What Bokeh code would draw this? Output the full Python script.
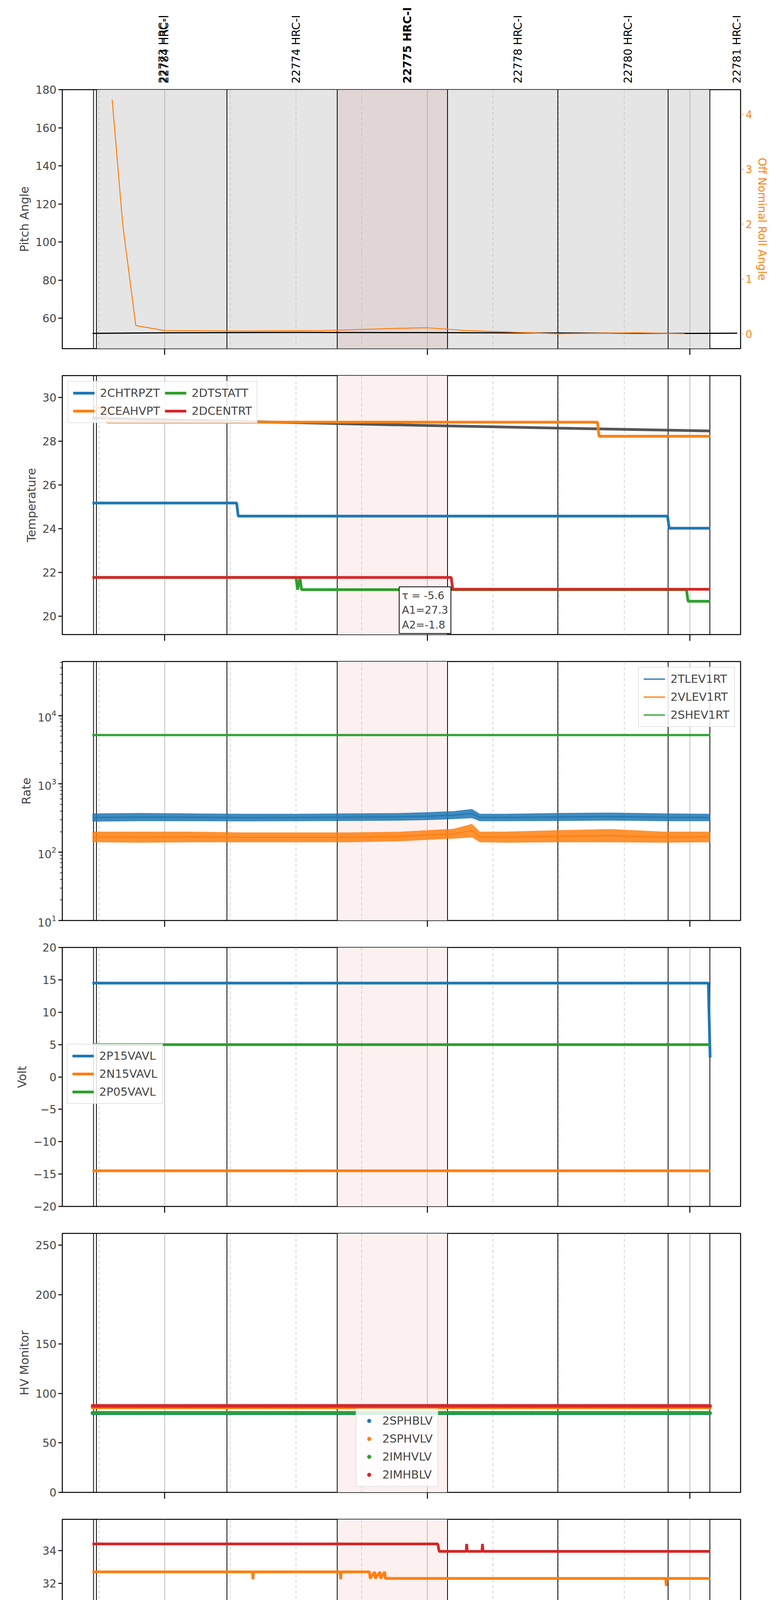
import math
from bokeh.plotting import figure
from bokeh.layouts import column
from bokeh.models import (Range1d, LinearAxis, FixedTicker, Span, BoxAnnotation, Label,
                          Legend, LegendItem)
from bokeh.core.properties import value
from bokeh.embed import file_html
from bokeh.resources import INLINE

# ---------------- data (time in hours of 2020-03-23) ----------------
x_start, x_end = 0.610, 3.193
obs_bounds = [0.729, 0.740, 1.237, 1.657, 2.077, 2.497, 2.917, 3.076]
hour_ticks = [1.0, 2.0, 3.0]
hour_labels = ["01h", "02h", "03h"]
minor_ticks = [0.75, 1.25, 1.5, 1.75, 2.25, 2.5, 2.75]
minor_labels = ["45", "15", "30", "45", "15", "30", "45"]
obs_names = ["22773 HRC-I", "22784 HRC-I", "22774 HRC-I", "22778 HRC-I", "22780 HRC-I", "22781 HRC-I"]
obs_label_x = [0.994, 1.0, 1.50, 2.345, 2.765, 3.18]
focus_name = ["22775 HRC-I"]
focus_label_x = [1.925]
focus_obs = (1.657, 2.077)

pitch_t = [0.725, 1.0, 1.5, 2.0, 2.5, 3.0, 3.18]
pitch_v = [52.0, 52.3, 52.5, 52.4, 52.2, 52.0, 52.1]
roll_t = [0.80, 0.84, 0.89, 1.0, 1.3, 1.6, 1.9, 2.0, 2.15, 2.5, 2.8, 2.98]
roll_v = [4.27, 2.0, 0.15, 0.06, 0.05, 0.06, 0.1, 0.11, 0.06, 0.0, 0.02, 0.0]

chtrpzt_t = [0.725, 1.274, 1.280, 2.915, 2.921, 3.077]
chtrpzt_v = [25.18, 25.18, 24.58, 24.58, 24.03, 24.03]
ceahvpt_t = [0.725, 0.775, 0.781, 2.648, 2.654, 3.077]
ceahvpt_v = [29.55, 29.55, 28.87, 28.87, 28.23, 28.23]
dtstatt_t = [0.725, 1.500, 1.506, 1.515, 1.521, 2.987, 2.993, 3.077]
dtstatt_v = [21.78, 21.78, 21.22, 21.78, 21.22, 21.22, 20.69, 20.69]
dcentrt_t = [0.725, 2.091, 2.097, 3.077]
dcentrt_v = [21.78, 21.78, 21.24, 21.24]
model_t = [0.725, 1.0, 1.5, 2.0, 2.5, 3.077]
model_v = [29.07, 28.98, 28.85, 28.72, 28.6, 28.47]

rate_t = [0.725, 0.9, 1.1, 1.3, 1.5, 1.7, 1.9, 2.0, 2.1, 2.17, 2.2, 2.3, 2.5, 2.7, 2.9, 3.077]
tlev_lo = [280, 285, 285, 283, 285, 287, 290, 295, 305, 315, 285, 285, 287, 290, 285, 285]
tlev_hi = [370, 375, 370, 365, 365, 370, 375, 385, 400, 430, 365, 365, 375, 380, 370, 365]
vlev_lo = [140, 138, 140, 140, 140, 140, 145, 152, 158, 165, 140, 138, 140, 140, 138, 140]
vlev_hi = [200, 200, 200, 195, 195, 195, 200, 210, 220, 260, 200, 200, 210, 218, 200, 200]
shev_lo = [5000, 5000, 5000, 5000, 5000, 5000, 5000, 5000, 5000, 5000, 5000, 5000, 5000, 5000, 5000, 5000]
shev_hi = [5400, 5400, 5400, 5400, 5400, 5400, 5400, 5400, 5400, 5400, 5400, 5400, 5400, 5400, 5400, 5400]

p15_t = [0.725, 3.070, 3.077]
p15_v = [14.5, 14.5, 3.0]
n15_t = [0.725, 1.2, 1.7, 2.2, 2.7, 3.077]
n15_v = [-14.5, -14.5, -14.5, -14.5, -14.5, -14.5]
p05_t = [0.725, 3.077]
p05_v = [5.0, 5.0]

hv_t = [0.725, 0.8, 0.9, 1.0, 1.1, 1.2, 1.3, 1.4, 1.5, 1.6, 1.7, 1.8, 1.9, 2.0,
        2.1, 2.2, 2.3, 2.4, 2.5, 2.6, 2.7, 2.8, 2.9, 3.0, 3.077]
sphblv_v = [80.0] * 25
sphvlv_v = [86.0] * 25
imhvlv_v = [80.5] * 25
imhblv_v = [87.5] * 25

spinatm_t = [0.725, 2.310, 2.312, 2.318, 2.320, 2.330, 2.332, 2.352, 2.354, 2.380, 2.382, 2.40, 2.402, 2.428, 2.430, 2.436]
spinatm_v = [22.4, 22.4, 21.7, 21.7, 22.4, 22.4, 21.7, 22.4, 21.7, 22.4, 21.7, 22.4, 21.7, 22.4, 21.7, 21.7]
sphvatm_t = [0.725, 1.334, 1.336, 1.338, 1.668, 1.670, 1.672, 1.78, 1.782, 1.80, 1.802, 1.82, 1.822, 1.838, 1.840, 2.908, 2.910, 2.912, 3.077]
sphvatm_v = [32.7, 32.7, 32.25, 32.7, 32.7, 32.25, 32.7, 32.7, 32.3, 32.7, 32.3, 32.7, 32.3, 32.7, 32.3, 32.3, 31.85, 32.3, 32.3]
iminatm_t = [0.725, 3.077]
iminatm_v = [21.7, 21.7]
imhvatm_t = [0.725, 2.04, 2.045, 2.148, 2.150, 2.152, 2.208, 2.210, 2.212, 3.077]
imhvatm_v = [34.4, 34.4, 33.95, 33.95, 34.4, 33.95, 33.95, 34.4, 33.95, 33.95]

fhtrmzt_t = [0.725, 0.805, 0.81, 0.815, 1.242, 1.250, 1.70, 1.703, 1.706, 2.354, 2.362, 2.473, 2.476, 2.479, 3.077]
fhtrmzt_v = [22.9, 22.9, 23.5, 22.9, 22.9, 22.4, 22.4, 24.55, 22.4, 22.4, 21.8, 21.8, 21.25, 21.8, 21.8]
fradpyt_t = [0.725, 1.388, 1.394, 2.477, 2.483, 3.077]
fradpyt_v = [17.65, 17.65, 17.15, 17.15, 16.65, 16.65]
fepratm_t = [0.725, 1.31, 1.315, 1.32, 1.33, 1.34, 1.35, 3.01, 3.02, 3.03, 3.04, 3.077]
fepratm_v = [25.4, 25.4, 24.6, 25.4, 24.6, 25.4, 24.6, 24.6, 23.9, 24.6, 23.9, 23.9]
fe00atm_t = [0.725, 0.735, 0.74, 0.745, 0.80, 0.802, 0.804, 1.18, 1.182, 1.184, 1.40, 1.402, 1.404,
             1.47, 1.476, 1.52, 1.522, 1.524, 1.58, 1.582, 1.584, 1.81, 1.812, 1.814, 1.98, 1.982, 1.984,
             2.26, 2.266, 2.43, 2.432, 2.434, 2.53, 2.532, 2.534, 2.75, 2.752, 2.754, 3.03, 3.032, 3.034, 3.077]
fe00atm_v = [22.65, 22.35, 22.65, 22.35, 22.35, 21.1, 22.35, 22.35, 21.7, 22.35, 22.35, 22.0, 22.35,
             22.35, 22.0, 22.0, 22.35, 22.0, 22.0, 22.35, 22.0, 22.0, 21.7, 22.0, 22.0, 22.65, 22.0,
             22.0, 21.7, 21.7, 22.35, 21.7, 21.7, 22.0, 21.7, 21.7, 21.4, 21.7, 21.7, 21.1, 21.7, 21.7]

C = ["#1f77b4", "#ff7f0e", "#2ca02c", "#d62728"]
FONT = "DejaVu Sans"
W = 1984
LEFT, RIGHT = 159, 88
PH = 663
TICK_FS = "28px"
LABEL_FS = "30px"
LEG_FS = "29px"


def style(p, ylabel):
    p.outline_line_color = "black"
    p.outline_line_width = 2.5
    p.xgrid.visible = False
    p.ygrid.visible = False
    for ax in p.yaxis:
        ax.axis_label = ylabel
        ax.axis_label_text_font = FONT
        ax.axis_label_text_font_style = "normal"
        ax.axis_label_text_font_size = LABEL_FS
        ax.axis_label_standoff = 8
        ax.major_label_text_font = FONT
        ax.major_label_text_font_size = TICK_FS
        ax.major_tick_in = 0
        ax.major_tick_out = 10
        ax.major_tick_line_width = 2.5
        ax.minor_tick_line_color = None
        ax.axis_line_color = None


def decorate(p, top=False):
    if top:
        p.add_layout(BoxAnnotation(left=obs_bounds[1], right=obs_bounds[-1], fill_color="#e5e5e5",
                                   fill_alpha=1, line_color=None, level="underlay"))
        p.add_layout(BoxAnnotation(left=focus_obs[0], right=focus_obs[1], fill_color="#d9a8a8",
                                   fill_alpha=0.25, line_color=None, level="underlay"))
    else:
        p.add_layout(BoxAnnotation(left=focus_obs[0], right=focus_obs[1], fill_color="#fdf0f0",
                                   fill_alpha=1, line_color=None, level="underlay"))
    for h in hour_ticks:
        p.add_layout(Span(location=h, dimension="height", line_color="#aaaaaa", line_width=1.5, level="underlay"))
    for m in minor_ticks:
        p.add_layout(Span(location=m, dimension="height", line_color="#bbbbbb", line_width=1.2,
                          line_dash="8 6", level="underlay"))
    for b in obs_bounds:
        p.add_layout(Span(location=b, dimension="height", line_color="black", line_width=2, level="underlay"))


def xaxis_plain(p):
    ax = p.xaxis[0]
    ax.ticker = FixedTicker(ticks=hour_ticks)
    ax.major_label_overrides = {1: "", 2: "", 3: ""}
    ax.major_label_text_font_size = "1px"
    ax.major_tick_in = 0
    ax.major_tick_out = 16
    ax.major_tick_line_width = 2.5
    ax.minor_tick_line_color = None
    ax.axis_line_color = None


def make(height, ytop_border, ybot_border, yr, ylabel, log=False):
    p = figure(width=W, height=height, output_backend="svg", toolbar_location=None,
               x_range=Range1d(x_start, x_end), y_range=yr,
               y_axis_type="log" if log else "linear",
               min_border_left=LEFT, min_border_right=RIGHT,
               min_border_top=ytop_border, min_border_bottom=ybot_border)
    style(p, ylabel)
    return p


def legend(p, items, loc, ncols=1, margin=14):
    lg = Legend(items=items, location=loc, label_text_font=FONT, label_text_font_size=LEG_FS,
                border_line_color="#cccccc", border_line_width=2, background_fill_alpha=0.85,
                glyph_width=55, glyph_height=24, label_standoff=14, spacing=12, padding=12,
                margin=margin, ncols=ncols, label_height=30)
    p.add_layout(lg)


plots = []

# ---- label strip above panel 1 ----
strip = figure(width=W, height=215, output_backend="svg", toolbar_location=None,
               x_range=Range1d(x_start, x_end), y_range=Range1d(0, 1),
               min_border_left=LEFT, min_border_right=RIGHT, min_border_top=0, min_border_bottom=0)
strip.axis.visible = False
strip.grid.visible = False
strip.outline_line_color = None
strip.text(x=obs_label_x, y=[0.0] * len(obs_label_x), text=obs_names, angle=math.pi / 2,
           text_align="left", text_baseline="middle", y_offset=-2,
           text_font=value(FONT), text_font_size="28px")
strip.text(x=focus_label_x, y=[0.0], text=focus_name, angle=math.pi / 2,
           text_align="left", text_baseline="middle", y_offset=-2,
           text_font=value(FONT), text_font_size="28px", text_font_style="bold")
plots.append(strip)

# ---- panel 1 ----
p1 = make(14 + PH + 35, 14, 35, Range1d(44, 180), "Pitch Angle")
p1.yaxis[0].ticker = FixedTicker(ticks=[60, 80, 100, 120, 140, 160, 180])
p1.extra_y_ranges = {"roll": Range1d(-0.27, 4.45)}
rax = LinearAxis(y_range_name="roll", axis_label="Off Nominal Roll Angle",
                 ticker=FixedTicker(ticks=[0, 1, 2, 3, 4]))
for k, v in dict(axis_label_text_color=C[1], major_label_text_color=C[1], major_tick_line_color=C[1],
                 axis_label_text_font=FONT, axis_label_text_font_style="normal",
                 axis_label_text_font_size="28px", major_label_text_font=FONT,
                 major_label_text_font_size="26px", major_tick_in=0, major_tick_out=8,
                 axis_label_standoff=6,
                 minor_tick_line_color=None, axis_line_color=None).items():
    setattr(rax, k, v)
p1.add_layout(rax, "right")
decorate(p1, top=True)
p1.line(pitch_t, pitch_v, line_color="black", line_width=3)
p1.line(roll_t, roll_v, line_color=C[1], line_width=2.5, y_range_name="roll")
xaxis_plain(p1)
plots.append(p1)

# ---- panel 2 ----
p2 = make(732, 34, 35, Range1d(19.17, 31.0), "Temperature")
p2.yaxis[0].ticker = FixedTicker(ticks=[20, 22, 24, 26, 28, 30])
decorate(p2)
p2.line(model_t, model_v, line_color="#444444", line_width=7, line_alpha=0.9)
r = [p2.line(chtrpzt_t, chtrpzt_v, line_color=C[0], line_width=7),
     p2.line(ceahvpt_t, ceahvpt_v, line_color=C[1], line_width=7),
     p2.line(dtstatt_t, dtstatt_v, line_color=C[2], line_width=7),
     p2.line(dcentrt_t, dcentrt_v, line_color=C[3], line_width=7)]
legend(p2, [LegendItem(label=n, renderers=[rr]) for n, rr in
            zip(["2CHTRPZT", "2CEAHVPT", "2DTSTATT", "2DCENTRT"], r)], "top_left", ncols=2)
p2.add_layout(Label(x=1.893, y=19.22, text="τ = -5.6\nA1=27.3\nA2=-1.8", text_baseline="bottom",
                    text_font=FONT, text_font_size="27px", border_line_color="black",
                    border_line_width=2, background_fill_color="white", padding=7))
xaxis_plain(p2)
plots.append(p2)

# ---- panel 3 ----
p3 = make(732, 34, 35, Range1d(10, 62000), "Rate", log=True)
p3.yaxis[0].minor_tick_line_color = "black"
p3.yaxis[0].minor_tick_out = 6
p3.yaxis[0].minor_tick_in = 0
p3.yaxis[0].minor_tick_line_width = 1.5
decorate(p3)
r = []
for lo, hi, col in [(tlev_lo, tlev_hi, C[0]), (vlev_lo, vlev_hi, C[1]), (shev_lo, shev_hi, C[2])]:
    p3.varea(x=rate_t, y1=lo, y2=hi, fill_color=col, fill_alpha=0.85)
    mid = [math.sqrt(a * b) for a, b in zip(lo, hi)]
    r.append(p3.line(rate_t, mid, line_color=col, line_width=3))
legend(p3, [LegendItem(label=n, renderers=[rr]) for n, rr in
            zip(["2TLEV1RT", "2VLEV1RT", "2SHEV1RT"], r)], "top_right")
xaxis_plain(p3)
plots.append(p3)

# ---- panel 4 ----
p4 = make(732, 34, 35, Range1d(-20, 20), "Volt")
p4.yaxis[0].ticker = FixedTicker(ticks=[-20, -15, -10, -5, 0, 5, 10, 15, 20])
decorate(p4)
r = [p4.line(p15_t, p15_v, line_color=C[0], line_width=7),
     p4.line(n15_t, n15_v, line_color=C[1], line_width=7),
     p4.line(p05_t, p05_v, line_color=C[2], line_width=7)]
legend(p4, [LegendItem(label=n, renderers=[rr]) for n, rr in
            zip(["2P15VAVL", "2N15VAVL", "2P05VAVL"], r)], (12, 262), margin=0)
xaxis_plain(p4)
plots.append(p4)

# ---- panel 5 ----
p5 = make(732, 34, 35, Range1d(0, 262), "HV Monitor")
p5.yaxis[0].ticker = FixedTicker(ticks=[0, 50, 100, 150, 200, 250])
decorate(p5)
r = []
for vals, col in [(sphblv_v, C[0]), (sphvlv_v, C[1]), (imhvlv_v, C[2]), (imhblv_v, C[3])]:
    p5.line(hv_t, vals, line_color=col, line_width=9)
    r.append(p5.scatter(hv_t, vals, size=8, color=col))
legend(p5, [LegendItem(label=n, renderers=[rr]) for n, rr in
            zip(["2SPHBLV", "2SPHVLV", "2IMHVLV", "2IMHBLV"], r)], (752, 14), margin=0)
p5.legend[0].glyph_width = 40
xaxis_plain(p5)
plots.append(p5)

# ---- panel 6 ----
p6 = make(732, 34, 35, Range1d(20.12, 35.9), "Detector Temp")
p6.yaxis[0].ticker = FixedTicker(ticks=[22, 24, 26, 28, 30, 32, 34])
decorate(p6)
r = [p6.line(spinatm_t, spinatm_v, line_color=C[0], line_width=7),
     p6.line(sphvatm_t, sphvatm_v, line_color=C[1], line_width=7),
     p6.line(iminatm_t, iminatm_v, line_color=C[2], line_width=7),
     p6.line(imhvatm_t, imhvatm_v, line_color=C[3], line_width=7)]
legend(p6, [LegendItem(label=n, renderers=[rr]) for n, rr in
            zip(["2SPINATM", "2SPHVATM", "2IMINATM", "2IMHVATM"], r)], (1468, 249), margin=0)
xaxis_plain(p6)
plots.append(p6)

# ---- panel 7 ----
p7 = make(34 + PH + 100, 34, 100, Range1d(15.17, 26.88), "FEA Temp")
p7.yaxis[0].ticker = FixedTicker(ticks=[16, 18, 20, 22, 24, 26])
decorate(p7)
r = [p7.line(fhtrmzt_t, fhtrmzt_v, line_color=C[0], line_width=7),
     p7.line(fradpyt_t, fradpyt_v, line_color=C[1], line_width=7),
     p7.line(fepratm_t, fepratm_v, line_color=C[2], line_width=7),
     p7.line(fe00atm_t, fe00atm_v, line_color=C[3], line_width=7)]
legend(p7, [LegendItem(label=n, renderers=[rr]) for n, rr in
            zip(["2FHTRMZT", "2FRADPYT", "2FEPRATM", "2FE00ATM"], r)], "bottom_left")
ax = p7.xaxis[0]
ax.ticker = FixedTicker(ticks=minor_ticks + hour_ticks)
ov = {m: l for m, l in zip(minor_ticks, minor_labels)}
ov.update({1: "", 2: "", 3: ""})
ax.major_label_overrides = ov
ax.major_label_text_font = FONT
ax.major_label_text_font_size = "19px"
ax.major_tick_in = 0
ax.major_tick_out = 8
ax.major_tick_line_width = 2
ax.minor_tick_line_color = None
ax.axis_line_color = None
hx = LinearAxis(ticker=FixedTicker(ticks=hour_ticks),
                major_label_overrides={h: l for h, l in zip(hour_ticks, hour_labels)},
                axis_label="2020-03-23 (083)")
hx.major_label_text_font = FONT
hx.major_label_text_font_size = TICK_FS
hx.axis_label_text_font = FONT
hx.axis_label_text_font_style = "normal"
hx.axis_label_text_font_size = "32px"
hx.axis_label_standoff = 2
hx.major_tick_in = 0
hx.major_tick_out = 4
hx.major_tick_line_width = 2.5
hx.minor_tick_line_color = None
hx.axis_line_color = None
hx.major_label_standoff = 2
p7.add_layout(hx, "below")
plots.append(p7)

layout = column(*plots, spacing=0)
open("out.html", "w").write(file_html(layout, INLINE))
